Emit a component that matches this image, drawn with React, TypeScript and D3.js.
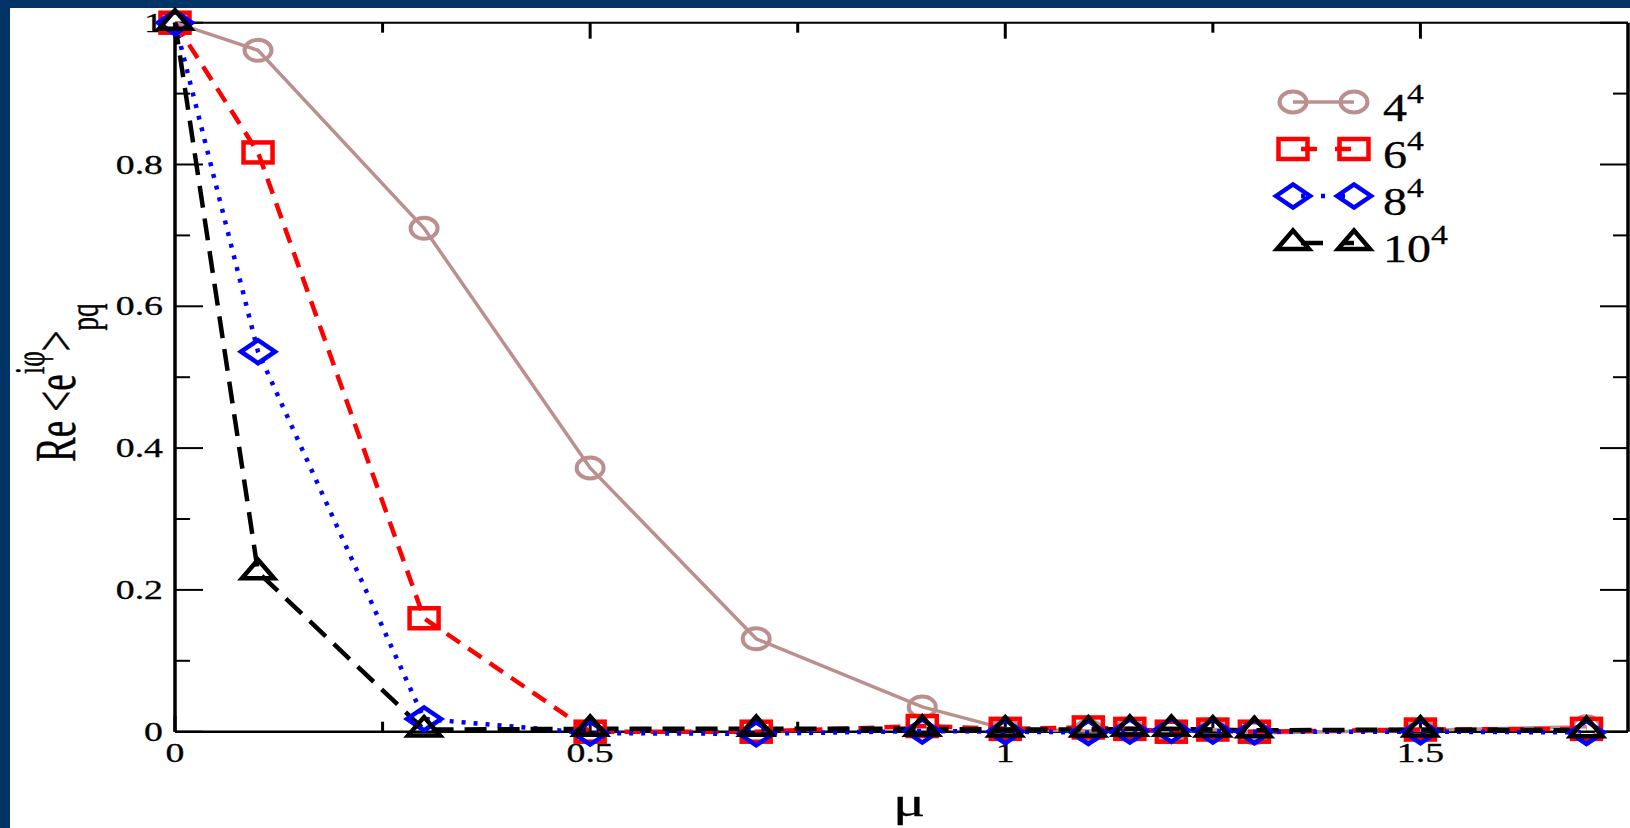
import React from 'react'
import * as d3 from 'd3'

// mu values shared by all lattices
const muValues = [0, 0.1, 0.3, 0.5, 0.7, 0.9, 1.0, 1.1, 1.15, 1.2, 1.25, 1.3, 1.5, 1.7]
const lat4 = [1, 0.961, 0.71, 0.372, 0.131, 0.035, 0.004, 0.001, 0.002, 0.0, 0.003, -0.002, 0.002, 0.007]
const lat6 = [1, 0.817, 0.16, 0.0, 0.0, 0.008, 0.004, 0.006, 0.004, 0.0, 0.003, 0.0, 0.003, 0.004]
const lat8 = [1, 0.536, 0.018, -0.002, -0.003, 0.001, 0.0, -0.001, 0.001, 0.002, 0.001, 0.0, 0.0, -0.001]
const lat10 = [1, 0.225, 0.003, 0.004, 0.004, 0.004, 0.003, 0.003, 0.004, 0.004, 0.003, 0.002, 0.003, 0.002]

const seriesNames = ['4', '6', '8', '10']
const seriesValues = [lat4, lat6, lat8, lat10]
const seriesColors = ['#bc8f8f', '#ff0000', '#0000ff', '#000000']
const seriesDash = [null, '16 10', '4 8', '22 11']
const seriesWidth = [3.5, 4.5, 4.5, 4.5]
const seriesSymbol = ['circle', 'square', 'diamond', 'triangle']

const xMajor = [0, 0.5, 1, 1.5]
const xMinor = [0.25, 0.75, 1.25]
const xLabels = ['0', '0.5', '1', '1.5']
const yMajor = [0, 0.2, 0.4, 0.6, 0.8, 1]
const yMinor = [0.1, 0.3, 0.5, 0.7, 0.9]
const yLabels = ['0', '0.2', '0.4', '0.6', '0.8', '1']

const W = 1630
const H = 828
const SERIF = '"Liberation Serif", "Times New Roman", serif'

const Marker = ({ kind, x, y, color }) => {
  const sw = 4.5
  if (kind === 'circle') return <ellipse cx={x} cy={y} rx={13.5} ry={10.5} fill="none" stroke={color} strokeWidth={4} />
  if (kind === 'square') return <rect x={x - 14.5} y={y - 10} width={29} height={20} fill="none" stroke={color} strokeWidth={sw} />
  if (kind === 'diamond') return <path d={`M${x - 17},${y}L${x},${y - 11.5}L${x + 17},${y}L${x},${y + 11.5}Z`} fill="none" stroke={color} strokeWidth={sw} />
  return <path d={`M${x - 16},${y + 6}L${x},${y - 12.5}L${x + 16},${y + 6}Z`} fill="none" stroke={color} strokeWidth={sw} />
}

export default function App() {
  const x = d3.scaleLinear().domain([0, 1.75]).range([175, 1628])
  const y = d3.scaleLinear().domain([0, 1]).range([731.7, 22.7])
  const line = d3.line<number>().x((d, i) => x(muValues[i])).y(d => y(d))

  const legendX = 1293
  const legendY0 = 102
  const legendDy = 47
  const txt = { fontFamily: SERIF, fill: '#000', stroke: '#000', strokeWidth: 0.3 }

  return (
    <svg width={W} height={H} viewBox={`0 0 ${W} ${H}`} style={{ position: 'absolute', left: 0, top: 0 }}>
      <rect x={0} y={0} width={W} height={H} fill="#003366" />
      <rect x={10} y={8} width={W - 10} height={H - 8} fill="#ffffff" />

      {/* frame */}
      <line x1={175} x2={1628} y1={y(1)} y2={y(1)} stroke="#000" strokeWidth={2} />
      <line x1={175} x2={1628} y1={y(0)} y2={y(0)} stroke="#000" strokeWidth={2.5} />
      <line x1={175} x2={175} y1={y(1)} y2={y(0)} stroke="#000" strokeWidth={3.5} />
      <line x1={1628} x2={1628} y1={y(1)} y2={y(0)} stroke="#000" strokeWidth={3.5} />

      {/* ticks */}
      {yMajor.map(v => (
        <g key={'ym' + v}>
          <line x1={175} x2={203} y1={y(v)} y2={y(v)} stroke="#000" strokeWidth={2} />
          <line x1={1628} x2={1600} y1={y(v)} y2={y(v)} stroke="#000" strokeWidth={2} />
        </g>
      ))}
      {yMinor.map(v => (
        <g key={'yn' + v}>
          <line x1={175} x2={190} y1={y(v)} y2={y(v)} stroke="#000" strokeWidth={2} />
          <line x1={1628} x2={1613} y1={y(v)} y2={y(v)} stroke="#000" strokeWidth={2} />
        </g>
      ))}
      {xMajor.map(v => (
        <g key={'xm' + v}>
          <line x1={x(v)} x2={x(v)} y1={y(0)} y2={y(0) - 16} stroke="#000" strokeWidth={3} />
          <line x1={x(v)} x2={x(v)} y1={y(1)} y2={y(1) + 16} stroke="#000" strokeWidth={3} />
        </g>
      ))}
      {xMinor.map(v => (
        <g key={'xn' + v}>
          <line x1={x(v)} x2={x(v)} y1={y(0)} y2={y(0) - 10} stroke="#000" strokeWidth={3} />
          <line x1={x(v)} x2={x(v)} y1={y(1)} y2={y(1) + 10} stroke="#000" strokeWidth={3} />
        </g>
      ))}

      {/* tick labels */}
      {xMajor.map((v, i) => (
        <text key={'xl' + v} transform={`translate(${x(v)},762) scale(1.4,1)`} textAnchor="middle"
          fontSize={27} {...txt}>{xLabels[i]}</text>
      ))}
      {yMajor.map((v, i) => (
        <text key={'yl' + v} transform={`translate(163,${y(v) + 9}) scale(1.4,1)`} textAnchor="end"
          fontSize={27} {...txt}>{yLabels[i]}</text>
      ))}

      {/* axis titles */}
      <text transform="translate(909,816) scale(1.5,1)" textAnchor="middle" fontSize={40} {...txt}>μ</text>
      <text transform="translate(75,462) scale(1.55,1) rotate(-90)" fontSize={37} {...txt}>
        Re &lt;e<tspan fontSize={27} dy={-20}>iφ</tspan><tspan dy={20}>&gt;</tspan><tspan fontSize={27} dy={15}>pq</tspan>
      </text>

      {/* lines */}
      {seriesValues.map((vals, s) => (
        <path key={'ln' + s} d={line(vals)} fill="none" stroke={seriesColors[s]} strokeWidth={seriesWidth[s]}
          strokeDasharray={seriesDash[s] || undefined} />
      ))}

      {/* markers */}
      {seriesValues.map((vals, s) => (
        <g key={'mk' + s}>
          {vals.map((v, i) => <Marker key={i} kind={seriesSymbol[s]} x={x(muValues[i])} y={y(v)} color={seriesColors[s]} />)}
        </g>
      ))}

      {/* legend */}
      {seriesNames.map((name, s) => {
        const ly = legendY0 + s * legendDy
        return (
          <g key={'lg' + s}>
            <line x1={legendX} x2={legendX + 61} y1={ly} y2={ly} stroke={seriesColors[s]} strokeWidth={seriesWidth[s]}
              strokeDasharray={seriesDash[s] ? '0 8 ' + seriesDash[s] : undefined} />
            <Marker kind={seriesSymbol[s]} x={legendX} y={ly} color={seriesColors[s]} />
            <Marker kind={seriesSymbol[s]} x={legendX + 61} y={ly} color={seriesColors[s]} />
            <text transform={`translate(1383,${ly + 19}) scale(1.2,1)`} fontSize={40} {...txt}>
              {name}<tspan fontSize={28} dy={-18}>4</tspan>
            </text>
          </g>
        )
      })}
    </svg>
  )
}
